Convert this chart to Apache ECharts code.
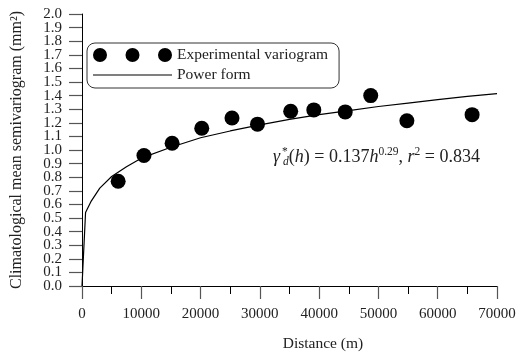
<!DOCTYPE html>
<html>
<head>
<meta charset="utf-8">
<script src="https://cdn.jsdelivr.net/npm/echarts@6/dist/echarts.min.js"></script>
<style>
  html, body { margin: 0; padding: 0; background: #fff; }
  #chart { width: 524px; height: 357px; }
</style>
</head>
<body>
<div id="chart"></div>
<script>
// experimental variogram points (distance m, semivariogram mm2)
var expDistance = [6100, 10450, 15200, 20200, 25300, 29600, 35200, 39100, 44400, 48700, 54800, 65800];
var expGamma = [0.77, 0.96, 1.05, 1.16, 1.235, 1.19, 1.285, 1.295, 1.28, 1.40, 1.215, 1.26];

// fitted power curve
var fitDistance = [0, 600, 1500, 3000, 5000, 7500, 10000, 15000, 20000, 25000, 30000, 35000, 40000, 45000, 50000, 55000, 60000, 65000, 70000];
var fitGamma = [0, 0.54, 0.62, 0.72, 0.805, 0.877, 0.94, 1.02, 1.09, 1.14, 1.185, 1.225, 1.26, 1.29, 1.32, 1.345, 1.37, 1.395, 1.415];

var FONT = '"Liberation Serif", "Times New Roman", serif';
var TXT = '#222';
var TICK = '#555';

var chart = echarts.init(document.getElementById('chart'));

var threeDots = 'path://M0,7a7,7 0 1,0 14,0a7,7 0 1,0 -14,0Z' +
  'M32.5,7a7,7 0 1,0 14,0a7,7 0 1,0 -14,0Z' +
  'M65,7a7,7 0 1,0 14,0a7,7 0 1,0 -14,0Z';
var thinLine = 'path://M0,0H79V1.2H0Z';

var yLabel = { fontFamily: FONT, fontSize: 15, color: TXT, margin: 20,
  formatter: function (v) { return v.toFixed(1); } };

var option = {
  animation: false,
  backgroundColor: '#fff',
  grid: { left: 82, right: 27, top: 14, bottom: 68 },
  legend: {
    orient: 'vertical',
    left: 87,
    top: 43,
    padding: [4, 11, 5, 6],
    itemWidth: 79,
    itemHeight: 14,
    itemGap: 4,
    borderColor: '#333',
    borderWidth: 1,
    borderRadius: 8,
    textStyle: { fontFamily: FONT, fontSize: 15.5, color: TXT },
    data: [
      { name: 'Experimental variogram', icon: threeDots, itemStyle: { color: '#000', opacity: 1 } },
      { name: 'Power form', icon: thinLine, itemStyle: { color: '#000' } }
    ]
  },
  xAxis: {
    type: 'value',
    min: 0,
    max: 70000,
    interval: 10000,
    name: 'Distance (m)',
    nameLocation: 'middle',
    nameGap: 50,
    nameTextStyle: { fontFamily: FONT, fontSize: 15.5, color: TXT, padding: [0, 0, 0, 67] },
    axisLine: { lineStyle: { color: '#000', width: 1 } },
    axisTick: { show: true, length: 13, lineStyle: { color: TICK, width: 1.2 } },
    minorTick: { show: true, splitNumber: 2, length: 8, lineStyle: { color: '#000' } },
    axisLabel: {
      fontFamily: FONT, fontSize: 15, color: TXT, margin: 21,
      formatter: function (v) { return String(v); }
    },
    splitLine: { show: false }
  },
  yAxis: [
    {
      type: 'value',
      min: 0,
      max: 2,
      interval: 0.1,
      position: 'left',
      name: 'Climatological mean semivariogram (mm\u00b2)',
      nameLocation: 'middle',
      nameGap: 57,
      nameTextStyle: { fontFamily: FONT, fontSize: 16, color: TXT },
      axisLine: { show: true, onZero: false, lineStyle: { color: '#000', width: 1 } },
      axisTick: { show: false },
      minorTick: { show: false },
      axisLabel: Object.assign({ showMinLabel: false, showMaxLabel: false }, yLabel),
      splitLine: { show: false }
    },
    {
      // end labels 0.0 and 2.0
      type: 'value',
      min: 0,
      max: 2,
      interval: 2,
      position: 'left',
      axisLine: { show: false, onZero: false },
      axisTick: { show: false },
      minorTick: { show: false },
      axisLabel: Object.assign({ showMinLabel: true, showMaxLabel: true }, yLabel),
      splitLine: { show: false }
    },
    {
      // tick marks only
      type: 'value',
      min: 0,
      max: 2,
      interval: 0.1,
      position: 'left',
      axisLine: { show: false, onZero: false },
      axisTick: { show: true, length: 13, lineStyle: { color: TICK, width: 1.2 } },
      minorTick: { show: false },
      axisLabel: { show: false },
      splitLine: { show: false }
    }
  ],
  series: [
    {
      name: 'Experimental variogram',
      type: 'scatter',
      symbol: 'circle',
      symbolSize: 15,
      itemStyle: { color: '#000', opacity: 1 },
      data: expDistance.map(function (d, i) { return [d, expGamma[i]]; }),
      z: 3
    },
    {
      name: 'Power form',
      type: 'line',
      symbol: 'none',
      smooth: false,
      lineStyle: { color: '#000', width: 1.2 },
      itemStyle: { color: '#000' },
      data: fitDistance.map(function (d, i) { return [d, fitGamma[i]]; }),
      z: 2
    }
  ],
  graphic: [
    {
      type: 'text',
      left: 273,
      top: 146,
      style: {
        text: '{i|\u03b3}{star|*}{sub|d}{n|(}{i|h}{n|) = 0.137}{i|h}{sup|0.29}{n|, }{i|r}{sup|2}{n| = 0.834}',
        fill: TXT,
        rich: {
          n: { fontFamily: FONT, fontSize: 18, lineHeight: 22, fill: TXT },
          i: { fontFamily: FONT, fontSize: 18, fontStyle: 'italic', lineHeight: 22, fill: TXT },
          sup: { fontFamily: FONT, fontSize: 11.5, lineHeight: 14, verticalAlign: 'top', fill: TXT },
          star: { fontFamily: FONT, fontSize: 11.5, lineHeight: 14, verticalAlign: 'top', width: 1, padding: [0, 0, 0, 2], fill: TXT },
          sub: { fontFamily: FONT, fontSize: 11.5, fontStyle: 'italic', lineHeight: 10, verticalAlign: 'bottom', fill: TXT }
        }
      }
    }
  ]
};

chart.setOption(option);
</script>
</body>
</html>
